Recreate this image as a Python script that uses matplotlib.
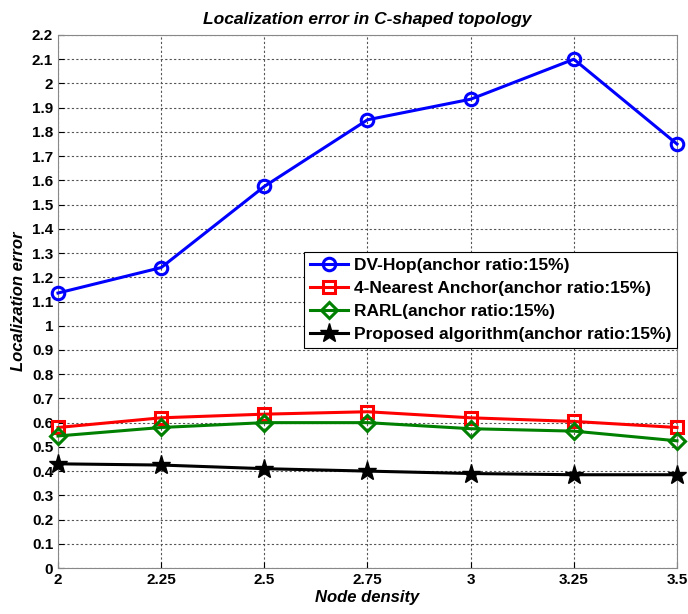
import numpy as np
import matplotlib
matplotlib.use('Agg')
import matplotlib.pyplot as plt

plt.rcParams['font.family'] = ['Liberation Sans', 'DejaVu Sans']
plt.rcParams['font.weight'] = 'bold'

# Dados
densidade = [2, 2.25, 2.5, 2.75, 3, 3.25, 3.5]
dv_hop = [1.135, 1.24, 1.575, 1.85, 1.935, 2.1, 1.75]
nearest4 = [0.58, 0.62, 0.635, 0.645, 0.62, 0.605, 0.58]
rarl = [0.545, 0.58, 0.6, 0.6, 0.575, 0.565, 0.525]
proposto = [0.43, 0.425, 0.41, 0.40, 0.39, 0.385, 0.385]

xticks = [2, 2.25, 2.5, 2.75, 3, 3.25, 3.5]
xticklabels = ['2', '2.25', '2.5', '2.75', '3', '3.25', '3.5']
yticks = np.round(np.arange(0, 2.21, 0.1), 1)

fig = plt.figure(figsize=(6.88, 6.14), dpi=100)
ax = fig.add_axes([0.0843, 0.0749, 0.8997, 0.8681])

ax.plot(densidade, dv_hop, 'o-', color='#0000ff', lw=2.2, ms=9, mfc='none', mew=2.2,
        label='DV-Hop(anchor ratio:15%)', clip_on=False, zorder=3)
ax.plot(densidade, nearest4, 's-', color='#ff0000', lw=2.2, ms=9, mfc='none', mew=2.2,
        label='4-Nearest Anchor(anchor ratio:15%)', clip_on=False, zorder=3)
ax.plot(densidade, rarl, 'D-', color='#008000', lw=2.2, ms=8, mfc='none', mew=2.2,
        label='RARL(anchor ratio:15%)', clip_on=False, zorder=3)
ax.plot(densidade, proposto, '*-', color='black', lw=2.2, ms=14,
        label='Proposed algorithm(anchor ratio:15%)', clip_on=False, zorder=3)

ax.set_xlim(2, 3.5)
ax.set_ylim(0, 2.2)
ax.set_xticks(xticks)
ax.set_xticklabels(xticklabels)
ax.set_yticks(yticks)
ax.set_yticklabels([('%g' % v) for v in yticks])
ax.tick_params(labelsize=11, direction='in', length=4)
for lab in ax.get_xticklabels() + ax.get_yticklabels():
    lab.set_fontweight('bold')

ax.grid(True, linestyle=(0, (2, 2)), color='#555555', lw=0.8)
for s in ax.spines.values():
    s.set_color('#888888')

ax.set_xlabel('Node density', fontsize=12, fontweight='bold', style='italic', labelpad=2)
ax.set_ylabel('Localization error', fontsize=12, fontweight='bold', style='italic', labelpad=4)
ax.set_title('Localization error in C-shaped topology', fontsize=12.5, fontweight='bold',
             style='italic', pad=8)

leg = ax.legend(loc='upper right', bbox_to_anchor=(1.0, 0.593),
                prop={'weight': 'bold', 'size': 12.5}, fancybox=False, framealpha=1,
                edgecolor='black', borderpad=0.35, labelspacing=0.45, handlelength=2.2,
                handletextpad=0.3, borderaxespad=0)
leg.get_frame().set_linewidth(0.8)
leg.set_zorder(5)

fig.savefig('out.png', dpi=100)
